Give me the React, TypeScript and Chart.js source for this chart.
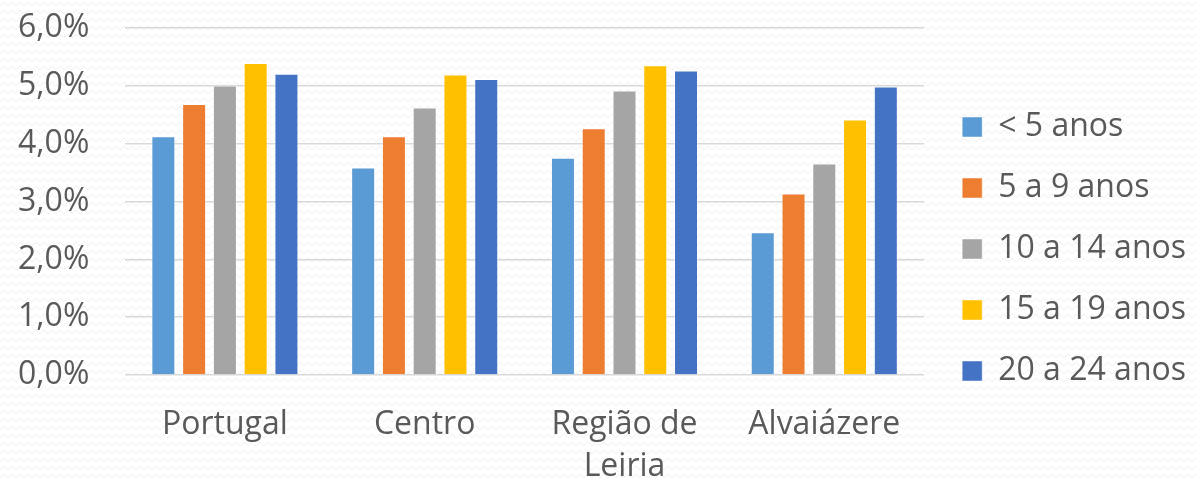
import React, { useEffect, useRef } from "react";
import { Chart, registerables } from "chart.js";

Chart.register(...registerables);

const categories: (string | string[])[] = ["Portugal", "Centro", ["Região de", "Leiria"], "Alvaiázere"];
const seriesNames = ["< 5 anos", "5 a 9 anos", "10 a 14 anos", "15 a 19 anos", "20 a 24 anos"];
const lt5 = [4.13, 3.59, 3.76, 2.47];
const a5to9 = [4.69, 4.13, 4.27, 3.14];
const a10to14 = [5.01, 4.63, 4.92, 3.66];
const a15to19 = [5.4, 5.2, 5.36, 4.42];
const a20to24 = [5.21, 5.12, 5.27, 4.99];
const seriesColors = ["#5B9BD5", "#ED7D31", "#A5A5A5", "#FFC000", "#4472C4"];
const yTicks = [0, 1, 2, 3, 4, 5, 6];

const FONT = "'Open Sans', 'Noto Sans', sans-serif";
const TEXT = "#595959";

const bgPlugin = {
  id: "bgPattern",
  beforeDraw(chart: any) {
    const { ctx, width, height } = chart;
    const tile = document.createElement("canvas");
    tile.width = 8;
    tile.height = 8;
    const t = tile.getContext("2d")!;
    t.fillStyle = "#ffffff";
    t.fillRect(0, 0, 8, 8);
    t.strokeStyle = "#efefef";
    t.lineWidth = 1;
    t.beginPath();
    t.moveTo(0, 6);
    t.lineTo(4, 2);
    t.lineTo(8, 6);
    t.stroke();
    const pat = ctx.createPattern(tile, "repeat");
    ctx.save();
    ctx.fillStyle = pat || "#ffffff";
    ctx.fillRect(0, 0, width, height);
    ctx.restore();
  },
};

export default function App() {
  const ref = useRef<HTMLCanvasElement | null>(null);

  useEffect(() => {
    document.body.style.margin = "0";
    if (!ref.current) return;
    const values = [lt5, a5to9, a10to14, a15to19, a20to24];
    const chart = new Chart(ref.current, {
      type: "bar",
      data: {
        labels: categories,
        datasets: seriesNames.map((name, i) => ({
          label: name,
          data: values[i],
          backgroundColor: seriesColors[i],
          borderColor: "rgba(255,255,255,0.45)",
          borderWidth: 1,
          categoryPercentage: 0.77,
          barPercentage: 0.78,
        })),
      },
      options: {
        responsive: false,
        animation: false,
        devicePixelRatio: 1,
        layout: { padding: { left: 18, top: 16, right: 0, bottom: 0 } },
        plugins: {
          tooltip: { enabled: false },
          title: { display: false },
          legend: {
            position: "right",
            align: "center",
            maxWidth: 320,
            labels: {
              boxWidth: 20,
              boxHeight: 20,
              padding: 29,
              color: TEXT,
              font: { family: FONT, size: 32 },
            },
          },
        },
        scales: {
          x: {
            grid: { display: false, drawTicks: false },
            border: { display: false },
            ticks: {
              color: TEXT,
              padding: 29,
              maxRotation: 0,
              autoSkip: false,
              font: { family: FONT, size: 32, lineHeight: 1.3 },
            },
            afterFit: (s: any) => {
              s.height = 107;
            },
          },
          y: {
            min: 0,
            max: 6,
            afterBuildTicks: (s: any) => {
              s.ticks = yTicks.map((v) => ({ value: v }));
            },
            grid: { color: "#d9d9d9", lineWidth: 1.6, drawTicks: false },
            border: { display: false },
            ticks: {
              color: TEXT,
              padding: 9,
              crossAlign: "far",
              font: { family: FONT, size: 32 },
              callback: (v: any) => Number(v).toFixed(1).replace(".", ",") + "%",
            },
            afterFit: (s: any) => {
              s.width = 107;
            },
          },
          y2: {
            position: "right",
            display: true,
            grid: { display: false, drawTicks: false },
            border: { display: false },
            ticks: { display: false },
            afterFit: (s: any) => {
              s.width = 9;
            },
          },
        },
      },
      plugins: [bgPlugin],
    });
    return () => chart.destroy();
  }, []);

  return (
    <div style={{ width: 1196, height: 482 }}>
      <canvas ref={ref} width={1196} height={482} />
    </div>
  );
}
